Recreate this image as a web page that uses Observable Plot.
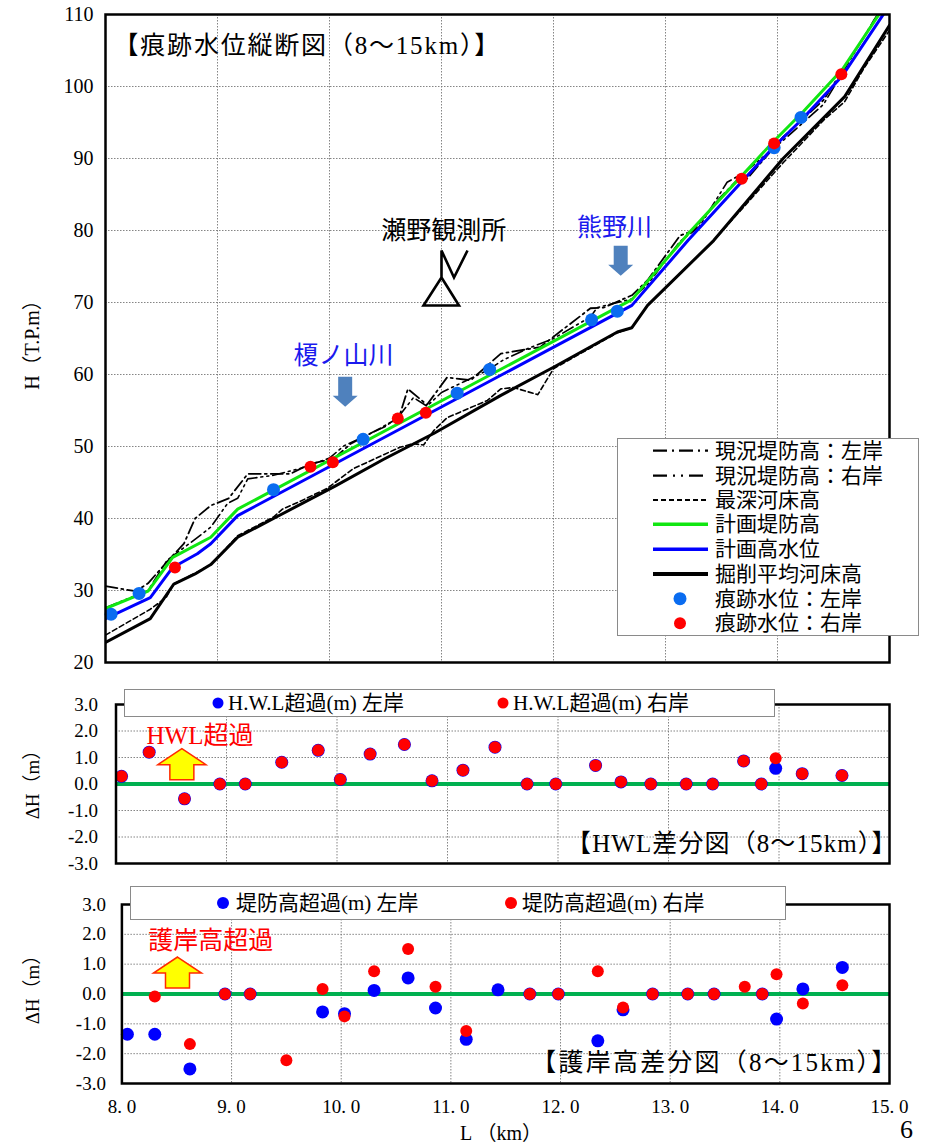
<!DOCTYPE html>
<html><head><meta charset="utf-8">
<script src="https://cdn.jsdelivr.net/npm/d3@7"></script>
<script src="https://cdn.jsdelivr.net/npm/@observablehq/plot@0.6"></script>
<style>
body{margin:0;background:#fff;}
#root{position:relative;width:930px;height:1145px;overflow:hidden;background:#fff;font-family:"Liberation Serif","Noto Sans CJK JP",serif;}
.chart{position:absolute;left:0;}
.lbl{position:absolute;white-space:nowrap;line-height:1;color:#000;}
.rot{transform:translate(-50%,-50%) rotate(-90deg);}
</style></head><body><div id="root"></div><script>
// ---------- axis ticks ----------
const xTicks = [8, 9, 10, 11, 12, 13, 14, 15];
const yTicksTop = [20, 30, 40, 50, 60, 70, 80, 90, 100, 110];
const yTicksDiff = [-3, -2, -1, 0, 1, 2, 3];

// ---------- longitudinal profile (km, T.P.m) ----------
const leveeLeftKm = [8.0,8.27,8.38,8.55,8.7,8.8,8.94,9.1,9.27,9.65,9.83,10.04,10.19,10.45,10.62,10.70,10.87,11.05,11.26,11.53,11.88,12.33,12.45,12.7,12.84,13.13,13.25,13.49,13.64,13.73,14.05,14.41,14.77,15.0];
const leveeLeftH  = [30.6,29.9,31.0,34.0,36.5,40.0,41.8,42.8,46.2,46.2,47.6,48.3,50.4,52.5,54.0,58.0,55.8,59.6,59.2,62.9,63.8,69.2,69.3,71.0,73.1,79.3,80.0,84.6,87.0,87.2,93.0,98.1,106.8,112.5];
const leveeRightKm = [8.0,8.38,8.55,8.79,8.94,9.09,9.18,9.27,9.5,9.75,10.0,10.13,10.3,10.5,10.62,10.75,10.87,11.0,11.2,11.4,11.55,11.77,12.0,12.33,12.39,12.7,12.84,13.13,13.3,13.55,13.7,14.05,14.41,14.86,15.0];
const leveeRightH  = [27.6,30.0,34.2,37.0,38.8,42.1,42.8,45.5,46.0,47.0,48.4,50.1,51.3,52.8,54.2,56.8,55.6,57.5,59.0,60.5,62.0,63.6,65.0,68.0,69.3,70.5,72.5,78.5,80.5,86.7,88.0,92.5,97.5,109.2,112.5];
const deepBedKm = [8.0,8.2,8.4,8.54,8.61,8.8,8.94,9.18,9.5,9.58,9.74,9.98,10.1,10.21,10.63,10.75,10.84,10.93,11.05,11.41,11.53,11.64,11.86,12.0,12.57,12.70,12.84,13.43,14.05,14.41,14.6,14.77,15.0];
const deepBedH  = [23.8,25.6,27.4,29.0,30.9,32.4,33.6,37.6,40.2,41.3,42.4,44.2,45.6,46.9,49.9,50.4,50.2,52.2,54.0,56.4,58.0,58.2,57.2,60.8,65.8,66.5,69.6,78.6,89.4,95.3,97.9,102.5,107.8];
const planLeveeKm = [8.0,8.38,8.6,8.94,9.18,12.7,13.2,13.96,14.235,14.58,15.0];
const planLeveeH  = [27.5,29.9,34.6,37.4,41.3,70.4,79.5,92.3,96.6,102.4,112.2];
const planHwlKm = [8.0,8.4,8.6,8.82,8.94,9.18,12.7,13.2,13.96,14.235,14.58,15.0];
const planHwlH  = [26.1,29.0,33.2,35.1,36.5,40.4,69.6,78.6,91.5,95.7,101.5,111.3];
const excBedKm = [8.0,8.4,8.61,8.8,8.94,9.18,9.5,10.05,10.48,10.93,11.53,12.0,12.57,12.70,12.84,13.43,14.05,14.6,15.0];
const excBedH  = [22.8,26.1,30.9,32.3,33.6,37.4,40.0,44.5,48.2,51.8,57.1,61.0,65.9,66.5,69.6,78.6,90.0,98.6,108.5];

// ---------- trace (flood mark) water levels ----------
const traceLeftKm = [8.05,8.30,9.50,10.30,11.14,11.43,12.34,12.57,13.97,14.21];
const traceLeftH  = [26.7,29.6,44.0,51.0,57.4,60.7,67.6,68.8,91.5,95.7];
const traceRightKm = [8.62,9.83,10.03,10.61,10.86,13.68,13.97,14.57];
const traceRightH  = [33.2,47.2,47.8,53.9,54.7,87.2,92.1,101.7];

// ---------- difference charts ----------
const stationKm = [8.05,8.30,8.62,8.94,9.17,9.50,9.83,10.03,10.30,10.61,10.86,11.14,11.43,11.72,11.98,12.34,12.57,12.84,13.16,13.40,13.68,13.84,13.97,14.21,14.57];
const hwlExcessLeft  = [0.29,1.20,-0.56,0.00,0.00,0.82,1.27,0.17,1.13,1.49,0.12,0.52,1.39,0.00,0.00,0.70,0.08,0.00,0.00,0.00,0.87,0.00,0.59,0.39,0.32];
const hwlExcessRight = [0.29,1.20,-0.56,0.00,0.00,0.82,1.27,0.17,1.13,1.49,0.12,0.52,1.39,0.00,0.00,0.70,0.08,0.00,0.00,0.00,0.87,0.00,0.97,0.39,0.32];
const leveeExcessLeft  = [-1.35,-1.35,-2.51,0.00,0.00,null,-0.60,-0.66,0.12,0.54,-0.47,-1.52,0.14,0.00,0.00,-1.57,-0.53,0.00,0.00,0.00,null,0.00,-0.84,0.17,0.89];
const leveeExcessRight = [null,-0.08,-1.68,0.00,0.00,-2.22,0.17,-0.75,0.76,1.51,0.24,-1.24,null,0.00,0.00,0.76,-0.45,0.00,0.00,0.00,0.24,0.00,0.66,-0.32,0.29];

// ---------- text ----------
const seriesNames = ["現況堤防高：左岸","現況堤防高：右岸","最深河床高","計画堤防高","計画高水位","掘削平均河床高","痕跡水位：左岸","痕跡水位：右岸"];
const hwlNames = ["H.W.L超過(m) 左岸","H.W.L超過(m) 右岸"];
const leveeNames = ["堤防高超過(m) 左岸","堤防高超過(m) 右岸"];
const titles = ["【痕跡水位縦断図（8～15km）】","【HWL差分図（8～15km）】","【護岸高差分図（8～15km）】"];

// annotation anchors (data units)
const topLabels = [
  {label:"瀬野観測所", km:11.02, h:80.0, color:"#000"},
  {label:"榎ノ山川", km:10.125, h:62.6, color:"#1a1aee"},
  {label:"熊野川", km:12.545, h:80.4, color:"#1a1aee"}
];
const tributaryArrows = [{km:10.14, h:57.6}, {km:12.6, h:75.8}];
const gaugeSite = [{km:11.0, h:73.47}];
const hwlNote = [{label:"HWL超過", km:8.76, v:1.80}];
const hwlArrow = [{km:8.596, v:0.75}];
const leveeNote = [{label:"護岸高超過", km:8.81, v:1.76}];
const leveeArrow = [{km:8.507, v:0.72}];

// ---------- helpers ----------
const FONT = '"Liberation Serif","Noto Sans CJK JP",serif';
const CJK = '"Noto Sans CJK JP","Liberation Serif",sans-serif';
const rows = (kms, vs) => kms.map((km, i) => ({km, h: vs[i]}));
const gridStyle = {stroke:"#777", strokeOpacity:1, strokeWidth:0.9, strokeDasharray:"1.5,1.5"};
const C = {leftDot:"#0a6cf0", rightDot:"#ff0000", green:"#11e611", blue:"#0000ff", zero:"#00b050", arrowBlue:"#4f81bd"};

const downArrow = {draw(c){c.moveTo(-7,-15);c.lineTo(7,-15);c.lineTo(7,4);c.lineTo(12.5,4);c.lineTo(0,15);c.lineTo(-12.5,4);c.lineTo(-7,4);c.closePath();}};
const upArrow = {draw(c){c.moveTo(0,-15.5);c.lineTo(24,0.5);c.lineTo(12,0.5);c.lineTo(12,15.5);c.lineTo(-12,15.5);c.lineTo(-12,0.5);c.lineTo(-24,0.5);c.closePath();}};
const gaugeMark = {draw(c){c.moveTo(0,0);c.lineTo(-18,28);c.lineTo(17.5,28);c.closePath();c.moveTo(0,0);c.lineTo(0,-27);c.lineTo(12.5,0);c.lineTo(26,-27);}};

const root = document.getElementById("root");
function place(node, top){ node.classList.add("chart"); node.style.top = top + "px"; root.appendChild(node); }
function spaceText(svg, text, spacing){
  d3.select(svg).selectAll("text").filter(function(){ return this.textContent === text; }).attr("letter-spacing", spacing);
}

// ---------- top: profile ----------
const profile = Plot.plot({
  width: 930, height: 680,
  marginLeft: 105, marginRight: 41, marginTop: 14, marginBottom: 18,
  style: {fontFamily: FONT, fontSize: "20px", background: "transparent", overflow: "visible"},
  x: {domain: [8, 15], axis: null},
  y: {domain: [20, 110], ticks: yTicksTop, tickSize: 0, tickPadding: 12, label: null, tickFormat: d => String(d)},
  marks: [
    Plot.gridX(xTicks, gridStyle),
    Plot.gridY(yTicksTop, gridStyle),
    Plot.line(rows(deepBedKm, deepBedH), {x:"km", y:"h", stroke:"#000", strokeWidth:1.6, strokeDasharray:"5,3", clip:true}),
    Plot.line(rows(leveeRightKm, leveeRightH), {x:"km", y:"h", stroke:"#000", strokeWidth:1.6, strokeDasharray:"12,4,2,4,2,4", clip:true}),
    Plot.line(rows(leveeLeftKm, leveeLeftH), {x:"km", y:"h", stroke:"#000", strokeWidth:1.8, strokeDasharray:"12,4,2,4", clip:true}),
    Plot.line(rows(excBedKm, excBedH), {x:"km", y:"h", stroke:"#000", strokeWidth:3, clip:true}),
    Plot.line(rows(planLeveeKm, planLeveeH), {x:"km", y:"h", stroke:C.green, strokeWidth:3, clip:true}),
    Plot.line(rows(planHwlKm, planHwlH), {x:"km", y:"h", stroke:C.blue, strokeWidth:3, clip:true}),
    Plot.dot(rows(traceLeftKm, traceLeftH), {x:"km", y:"h", r:6.5, fill:C.leftDot}),
    Plot.dot(rows(traceRightKm, traceRightH), {x:"km", y:"h", r:6, fill:C.rightDot}),
    Plot.frame({stroke:"#000", strokeWidth:2.5}),
    Plot.text([titles[0]], {frameAnchor:"top-left", dx:8, dy:31, textAnchor:"start", lineAnchor:"middle", fontSize:25, fill:"#000"}),
    Plot.text(topLabels, {x:"km", y:"h", text:"label", fill:"color", fontSize:25, fontFamily:CJK, lineAnchor:"middle"}),
    Plot.dot(tributaryArrows, {x:"km", y:"h", symbol:downArrow, fill:C.arrowBlue, r:10}),
    Plot.dot(gaugeSite, {x:"km", y:"h", symbol:gaugeMark, fill:"none", stroke:"#000", strokeWidth:2.6, r:10})
  ]
});
spaceText(profile, titles[0], 1.8);
place(profile, 0);

// ---------- middle: HWL difference ----------
const hwlData = stationKm.map((km, i) => ({km, left: hwlExcessLeft[i], right: hwlExcessRight[i]}));
const hwlChart = Plot.plot({
  width: 930, height: 200,
  marginLeft: 115.5, marginRight: 41, marginTop: 24, marginBottom: 17,
  style: {fontFamily: FONT, fontSize: "19px", background: "transparent", overflow: "visible"},
  x: {domain: [8, 15], axis: null},
  y: {domain: [-3, 3], ticks: yTicksDiff, tickSize: 0, tickPadding: 18, label: null, tickFormat: d => d.toFixed(1)},
  marks: [
    Plot.gridX(xTicks, gridStyle),
    Plot.gridY(yTicksDiff, gridStyle),
    Plot.ruleY([0], {stroke:C.zero, strokeWidth:4}),
    Plot.dot(hwlData, {x:"km", y:"left", r:6.5, fill:C.blue}),
    Plot.dot(hwlData, {x:"km", y:"right", r:6, fill:C.rightDot}),
    Plot.frame({stroke:"#000", strokeWidth:2.5}),
    Plot.text(hwlNote, {x:"km", y:"v", text:"label", fill:"#ff0000", fontSize:25, lineAnchor:"middle"}),
    Plot.dot(hwlArrow, {x:"km", y:"v", symbol:upArrow, fill:"#ffff00", stroke:"#ff2a00", strokeWidth:1.5, r:10}),
    Plot.text([titles[1]], {frameAnchor:"bottom-right", dx:8, dy:-20, textAnchor:"end", lineAnchor:"middle", fontSize:25, fill:"#000"})
  ]
});
spaceText(hwlChart, titles[1], 1.1);
place(hwlChart, 680);

// ---------- bottom: levee-height difference ----------
const leveeData = stationKm.map((km, i) => ({km, left: leveeExcessLeft[i], right: leveeExcessRight[i]}));
const leveeChart = Plot.plot({
  width: 930, height: 265,
  marginLeft: 121.4, marginRight: 41, marginTop: 24, marginBottom: 62,
  style: {fontFamily: FONT, fontSize: "19px", background: "transparent", overflow: "visible"},
  x: {domain: [8, 15], ticks: xTicks, tickSize: 0, tickPadding: 16, label: null, tickFormat: d => d.toFixed(1).replace(".", ". ")},
  y: {domain: [-3, 3], ticks: yTicksDiff, tickSize: 0, tickPadding: 16, label: null, tickFormat: d => d.toFixed(1)},
  marks: [
    Plot.gridX(xTicks, gridStyle),
    Plot.gridY(yTicksDiff, gridStyle),
    Plot.ruleY([0], {stroke:C.zero, strokeWidth:4}),
    Plot.dot(leveeData, {x:"km", y:"left", r:6.5, fill:C.blue}),
    Plot.dot(leveeData, {x:"km", y:"right", r:6, fill:C.rightDot}),
    Plot.frame({stroke:"#000", strokeWidth:2.5}),
    Plot.text(leveeNote, {x:"km", y:"v", text:"label", fill:"#ff0000", fontSize:25, fontFamily:CJK, lineAnchor:"middle"}),
    Plot.dot(leveeArrow, {x:"km", y:"v", symbol:upArrow, fill:"#ffff00", stroke:"#ff2a00", strokeWidth:1.5, r:10}),
    Plot.text([titles[2]], {frameAnchor:"bottom-right", dx:9, dy:-21, textAnchor:"end", lineAnchor:"middle", fontSize:25, fill:"#000"})
  ]
});
spaceText(leveeChart, titles[2], 2.2);
place(leveeChart, 880);

// ---------- legends ----------
function addLegend(box, items, fs){
  const svg = d3.create("svg").attr("width", box.width).attr("height", box.height)
    .style("position","absolute").style("left", box.left + "px").style("top", box.top + "px");
  svg.append("rect").attr("x",0.5).attr("y",0.5).attr("width",box.width-1).attr("height",box.height-1)
    .attr("fill","#fff").attr("stroke","#8a8a8a");
  for (const it of items){
    if (it.kind === "line") svg.append("line").attr("x1",it.x1).attr("x2",it.x2).attr("y1",it.y).attr("y2",it.y)
      .attr("stroke",it.color).attr("stroke-width",it.width).attr("stroke-dasharray",it.dash || null);
    else svg.append("circle").attr("cx",it.cx).attr("cy",it.y).attr("r",it.r).attr("fill",it.color);
    svg.append("text").attr("x",it.tx).attr("y",it.y).attr("dominant-baseline","central")
      .attr("font-size",fs).attr("font-family",FONT).attr("fill","#000").text(it.label);
  }
  root.appendChild(svg.node());
}
const ry = [12.7, 37.7, 62, 86.3, 111.3, 136, 160.7, 185.3];
addLegend({left:617, top:438, width:302, height:198}, [
  {kind:"line", x1:36, x2:91, y:ry[0], color:"#000", width:2.2, dash:"14,5,2,5", tx:98, label:seriesNames[0]},
  {kind:"line", x1:36, x2:91, y:ry[1], color:"#000", width:2.2, dash:"14,6,2,6,2,6", tx:98, label:seriesNames[1]},
  {kind:"line", x1:36, x2:91, y:ry[2], color:"#000", width:1.8, dash:"5,3", tx:98, label:seriesNames[2]},
  {kind:"line", x1:36, x2:91, y:ry[3], color:C.green, width:3.5, tx:98, label:seriesNames[3]},
  {kind:"line", x1:36, x2:91, y:ry[4], color:C.blue, width:3.5, tx:98, label:seriesNames[4]},
  {kind:"line", x1:36, x2:91, y:ry[5], color:"#000", width:4, tx:98, label:seriesNames[5]},
  {kind:"dot", cx:63, y:ry[6], r:6.5, color:C.leftDot, tx:98, label:seriesNames[6]},
  {kind:"dot", cx:63, y:ry[7], r:6, color:C.rightDot, tx:98, label:seriesNames[7]}
], 21);
addLegend({left:124, top:689, width:651, height:28}, [
  {kind:"dot", cx:94, y:14, r:5.5, color:C.blue, tx:104, label:hwlNames[0]},
  {kind:"dot", cx:379, y:14, r:5.5, color:C.rightDot, tx:389, label:hwlNames[1]}
], 21);
addLegend({left:130, top:886, width:656, height:34}, [
  {kind:"dot", cx:93, y:17, r:6, color:C.blue, tx:106, label:leveeNames[0]},
  {kind:"dot", cx:381, y:17, r:6, color:C.rightDot, tx:392, label:leveeNames[1]}
], 21);

// ---------- axis titles ----------
function addLabel(text, x, y, fs, rotate){
  const d = document.createElement("div");
  d.className = "lbl" + (rotate ? " rot" : "");
  d.textContent = text; d.style.fontSize = fs + "px";
  d.style.left = x + "px"; d.style.top = y + "px";
  if (!rotate) d.style.transform = "translate(-50%,-50%)";
  root.appendChild(d);
}
addLabel("H（T.P.m）", 32, 340, 20, true);
addLabel("ΔH（m）", 32, 780, 19, true);
addLabel("ΔH（m）", 32, 985, 19, true);
addLabel("L （km）", 501, 1133, 20, false);
const pg = document.createElement("div");
pg.className = "lbl"; pg.textContent = "6"; pg.style.fontSize = "26px"; pg.style.left = "900px"; pg.style.top = "1117px";
root.appendChild(pg);
</script></body></html>
